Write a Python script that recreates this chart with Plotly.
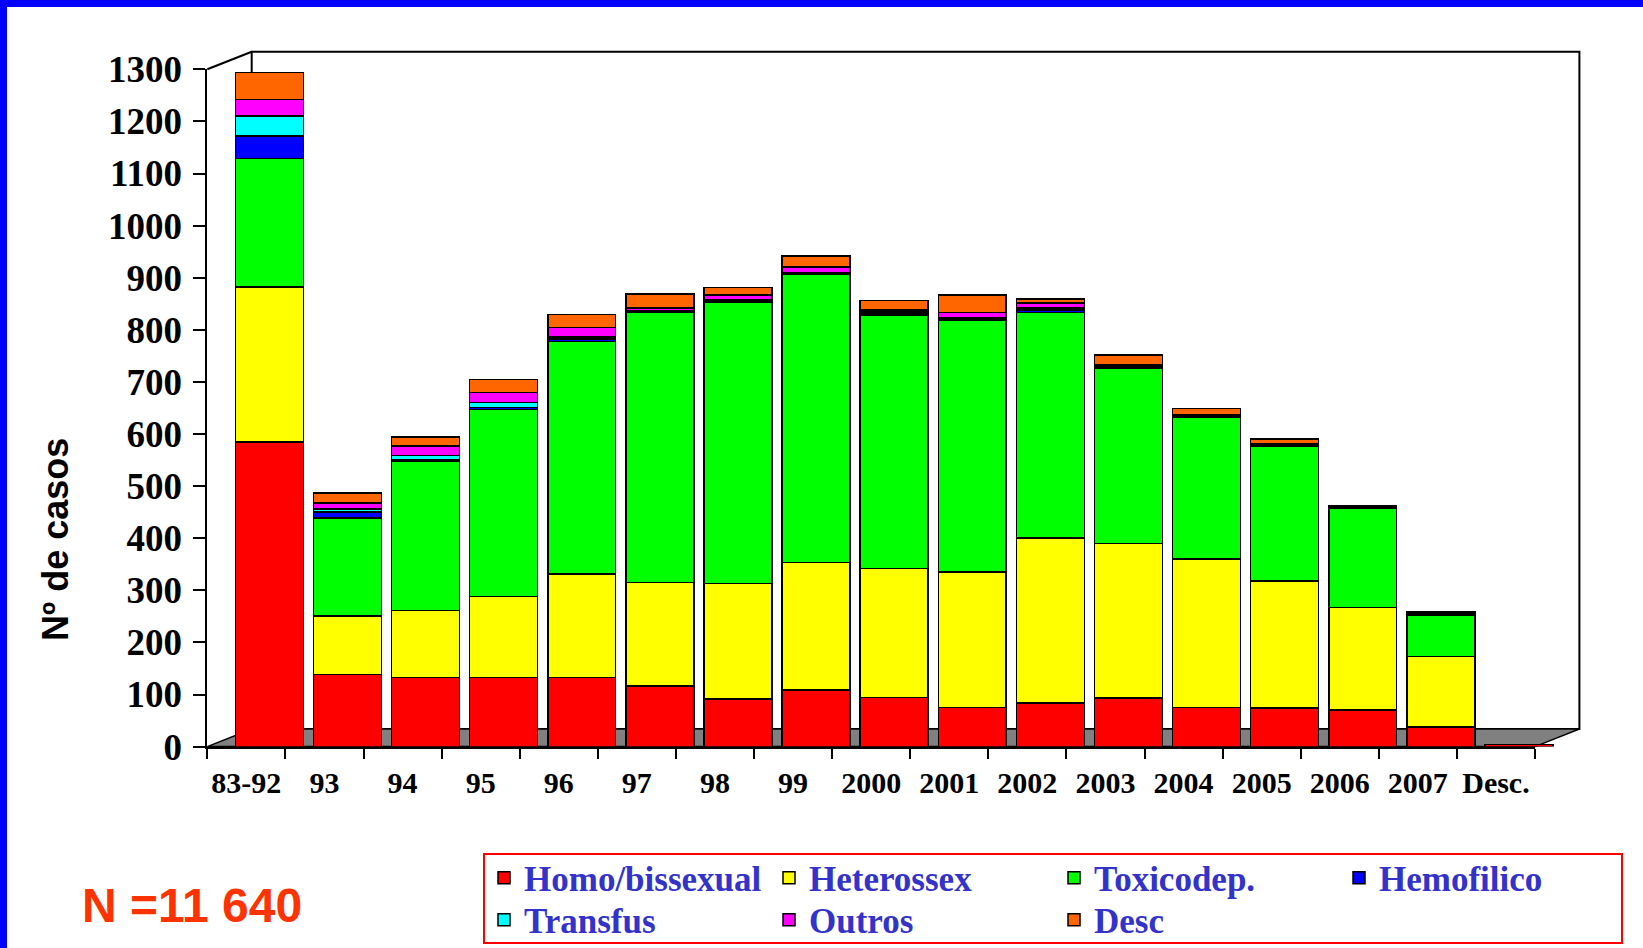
"""
Casos de SIDA por categoria de transmissão e ano de diagnóstico.
Recriação em Plotly (barras empilhadas com moldura tipo 3D).
"""
import plotly.graph_objects as go

# ---- dados -------------------------------------------------------------
categorias = ["83-92", "93", "94", "95", "96", "97", "98", "99", "2000",
              "2001", "2002", "2003", "2004", "2005", "2006", "2007", "Desc."]

homo = [585, 138, 133, 133, 133, 116, 91, 109, 94, 75, 84, 93, 75, 74, 70, 38, 4]
hetero = [297, 113, 128, 155, 198, 199, 222, 244, 248, 260, 316, 297, 285, 244, 197, 135, 0]
toxico = [247, 188, 287, 359, 447, 518, 539, 554, 486, 483, 433, 336, 272, 258, 190, 80, 0]
hemof = [43, 11, 3, 4, 4, 2, 3, 2, 4, 3, 5, 2, 1, 2, 1, 1, 0]
transf = [38, 6, 8, 9, 4, 1, 2, 1, 3, 3, 4, 2, 1, 2, 1, 1, 0]
outros = [32, 12, 18, 20, 18, 6, 10, 11, 3, 9, 9, 2, 2, 2, 1, 1, 0]
desc = [52, 19, 17, 25, 25, 27, 14, 21, 18, 34, 8, 20, 13, 8, 3, 3, 0]

# (nome, valores, cor, linha da legenda)
series = [
    ("Homo/bissexual", homo, "#FF0000", "legend"),
    ("Heterossex", hetero, "#FFFF00", "legend"),
    ("Toxicodep.", toxico, "#00FF00", "legend"),
    ("Hemofilico", hemof, "#0000FF", "legend"),
    ("Transfus", transf, "#00FFFF", "legend2"),
    ("Outros", outros, "#FF00FF", "legend2"),
    ("Desc", desc, "#FF6600", "legend2"),
]

y_ticks = list(range(0, 1301, 100))

# ---- geometria (pixels da figura) -------------------------------------
W, H = 1643, 948


def fx(x):
    return x / W


def fy(y):
    return 1 - y / H


# eixo frontal
X0, X1 = 207.3, 1535.0
Y0, Y1 = 746.6, 69.3
# deslocamento da parede de fundo
DX, DY = 44.4, 17.6
# deslocamento das colunas em relação às etiquetas
BAR_SHIFT = 23.0

serif = "Liberation Serif"
sans = "Liberation Sans"

fig = go.Figure()

# traço invisível só para o eixo de categorias frontal
fig.add_trace(go.Scatter(
    x=categorias, y=[0] * len(categorias), xaxis="x", yaxis="y",
    mode="markers", marker=dict(opacity=0, size=1),
    showlegend=False, hoverinfo="skip"
))

for nome, valores, cor, leg in series:
    fig.add_trace(go.Bar(
        x=categorias, y=valores, name=nome, xaxis="x2", yaxis="y",
        legend=leg,
        marker=dict(color=cor, line=dict(color="black", width=1.5)),
    ))

shapes = [
    # parede de fundo
    dict(type="rect", xref="paper", yref="paper",
         x0=fx(X0 + DX), x1=fx(X1 + DX), y0=fy(Y0 - DY), y1=fy(Y1 - DY),
         line=dict(color="black", width=2), fillcolor="white", layer="below"),
    # chão
    dict(type="path", xref="paper", yref="paper",
         path=(f"M {fx(X0)},{fy(Y0)} L {fx(X1)},{fy(Y0)} "
               f"L {fx(X1 + DX)},{fy(Y0 - DY)} L {fx(X0 + DX)},{fy(Y0 - DY)} Z"),
         line=dict(color="black", width=1.5), fillcolor="#808080", layer="below"),
    # aresta superior da parede lateral
    dict(type="line", xref="paper", yref="paper",
         x0=fx(X0), y0=fy(Y1), x1=fx(X0 + DX), y1=fy(Y1 - DY),
         line=dict(color="black", width=2), layer="below"),
    # caixa da legenda
    dict(type="rect", xref="paper", yref="paper",
         x0=fx(484), x1=fx(1622), y0=fy(943), y1=fy(854),
         line=dict(color="#FF0000", width=2), fillcolor="white", layer="below"),
    # moldura azul
    dict(type="rect", xref="paper", yref="paper", x0=0, x1=fx(7), y0=0, y1=1,
         line=dict(width=0), fillcolor="#0000FF", layer="above"),
    dict(type="rect", xref="paper", yref="paper", x0=0, x1=1, y0=fy(7), y1=1,
         line=dict(width=0), fillcolor="#0000FF", layer="above"),
]

legend_style = dict(
    orientation="h", traceorder="normal",
    xanchor="left", yanchor="middle",
    entrywidth=240, entrywidthmode="pixels",
    borderwidth=0, bgcolor="rgba(0,0,0,0)",
    font=dict(family=serif, size=35, color="#3333CC", weight="bold"),
)

fig.update_layout(
    width=W, height=H,
    margin=dict(l=0, r=0, t=0, b=0, autoexpand=False),
    plot_bgcolor="rgba(0,0,0,0)",
    paper_bgcolor="white",
    barmode="stack",
    bargap=0.13,
    showlegend=True,
    xaxis=dict(
        domain=[fx(X0), fx(X1)], anchor="y",
        type="category", categoryorder="array", categoryarray=categorias,
        range=[-0.5, len(categorias) - 0.5],
        tickson="boundaries", ticks="outside", ticklen=10, tickwidth=2,
        tickcolor="black", showline=True, linecolor="black", linewidth=2,
        showgrid=False, zeroline=False, automargin=False, tickangle=0,
        tickfont=dict(family=serif, size=30, color="black", weight="bold"),
        ticklabelstandoff=8,
    ),
    xaxis2=dict(
        domain=[fx(X0 + BAR_SHIFT), fx(X1 + BAR_SHIFT)], anchor="y",
        type="category", categoryorder="array", categoryarray=categorias,
        range=[-0.5, len(categorias) - 0.5],
        showticklabels=False, ticks="", showline=False, showgrid=False,
        zeroline=False, automargin=False,
    ),
    yaxis=dict(
        domain=[fy(Y0), fy(Y1)], anchor="x",
        range=[0, 1300], tickvals=y_ticks,
        ticks="outside", ticklen=12, tickwidth=2, tickcolor="black",
        showline=True, linecolor="black", linewidth=2,
        showgrid=False, zeroline=False, automargin=False,
        tickfont=dict(family=serif, size=37, color="black", weight="bold"),
        ticklabelstandoff=4,
    ),
    legend=dict(x=fx(484), y=fy(878), **legend_style),
    legend2=dict(x=fx(484), y=fy(920), **legend_style),
    shapes=shapes,
    annotations=[
        dict(text="Nº de casos", xref="paper", yref="paper",
             x=fx(55), y=fy(540), textangle=-90, showarrow=False,
             xanchor="center", yanchor="middle",
             font=dict(family=sans, size=36, color="black", weight="bold")),
        dict(text="N =11 640", xref="paper", yref="paper",
             x=fx(80), y=fy(905), showarrow=False,
             xanchor="left", yanchor="middle",
             font=dict(family=sans, size=48, color="#FF3300", weight="bold")),
    ],
)

# a página é fotografada a partir do canto: sem margem no body
fig.write_html(
    "out.html",
    config={"displayModeBar": False},
    post_script="document.body.style.margin='0';",
)
